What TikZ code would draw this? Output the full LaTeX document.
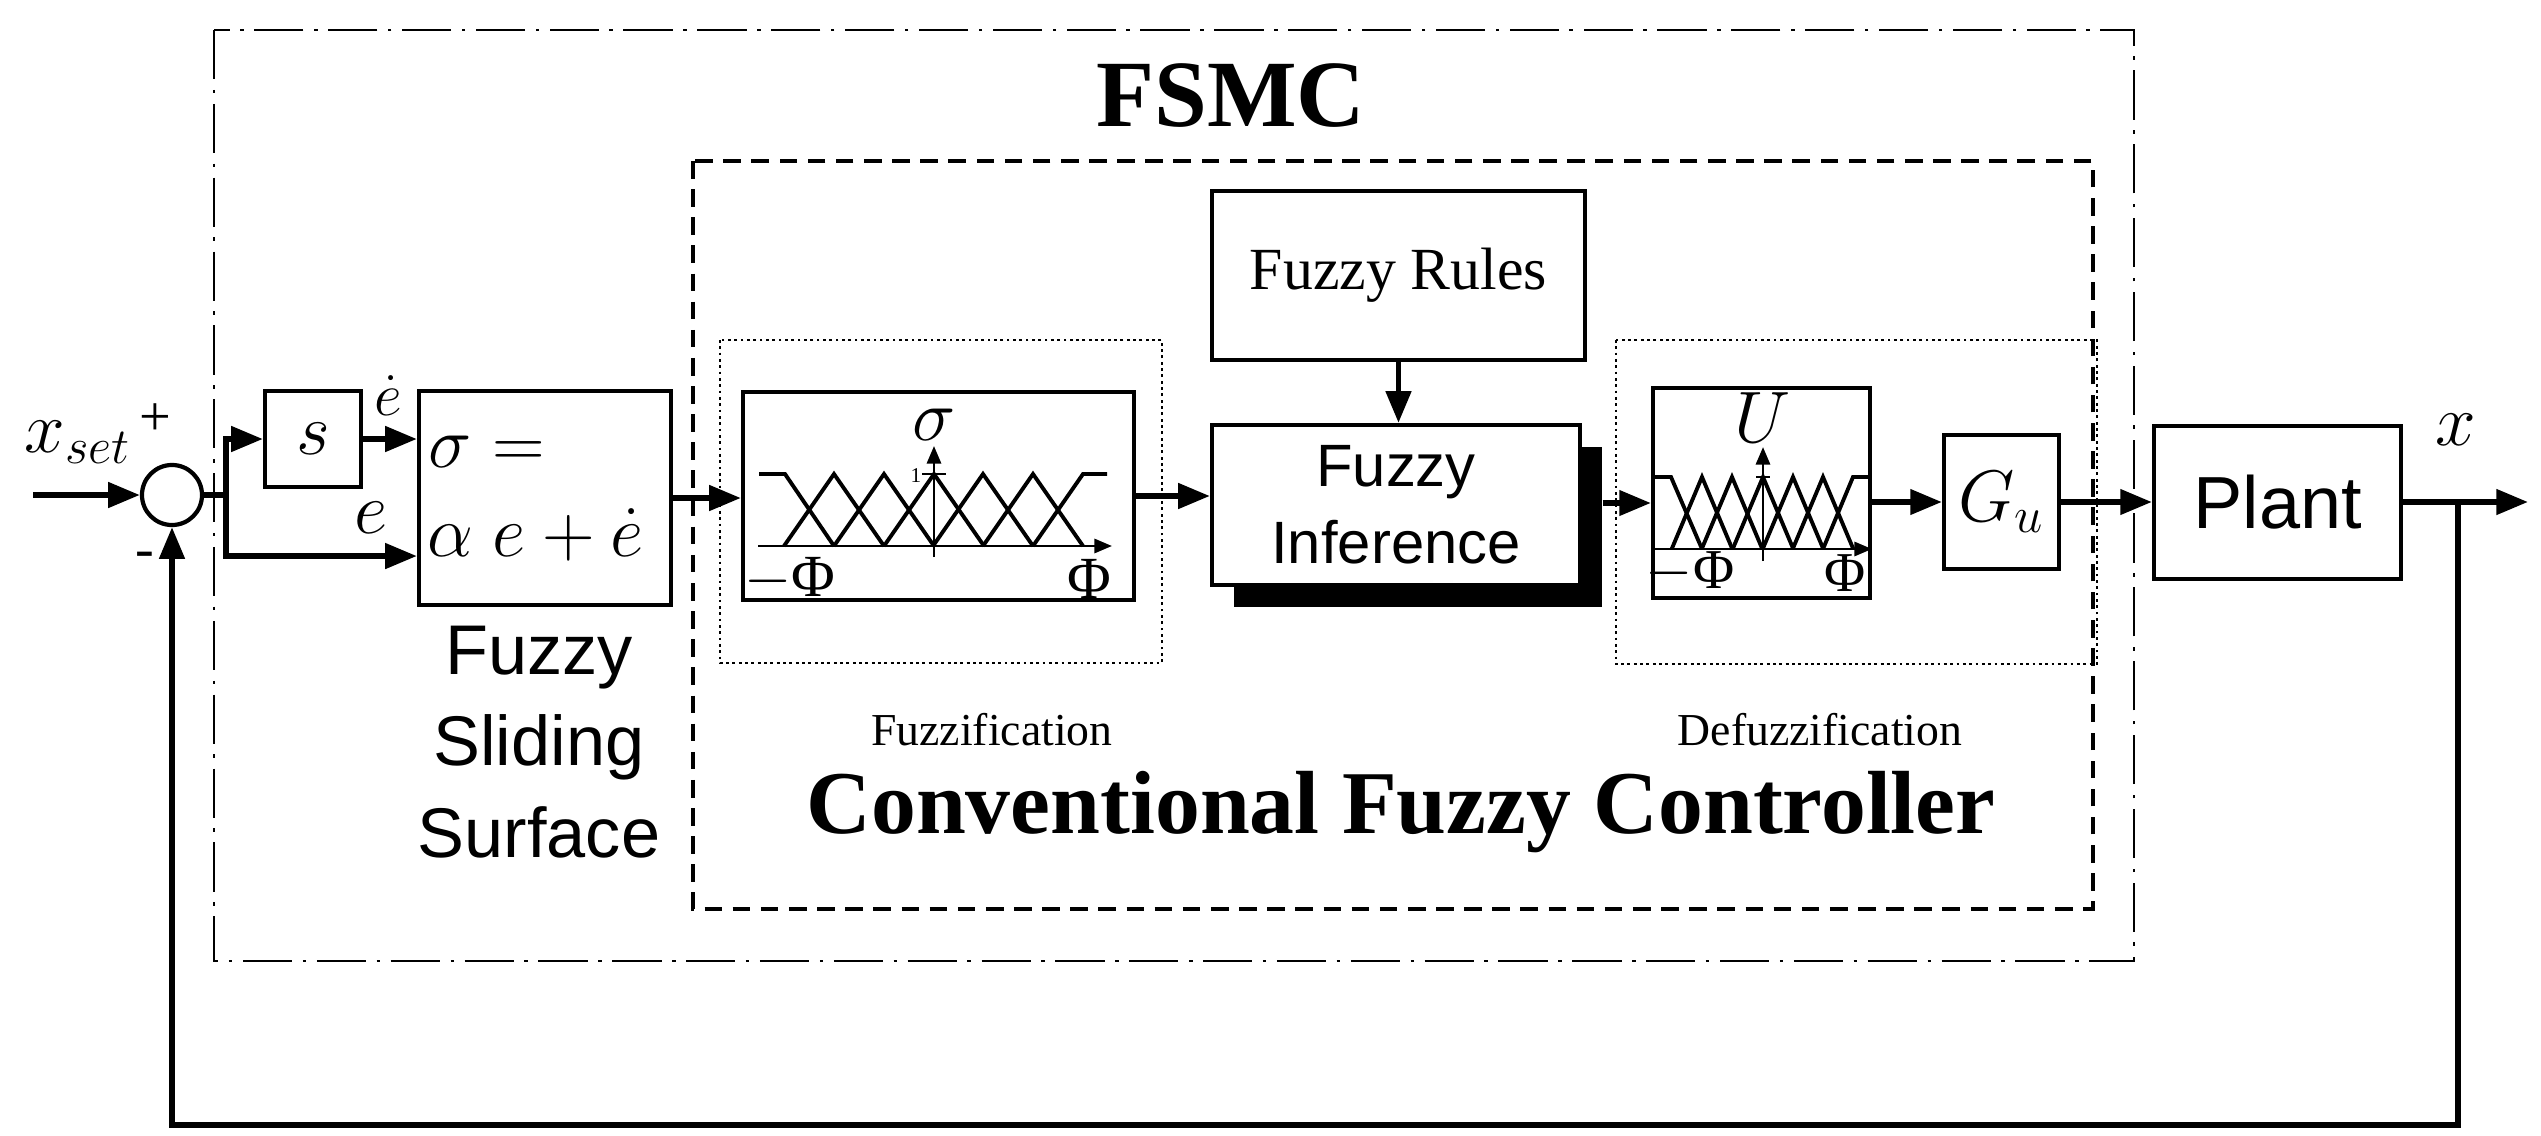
\documentclass[tikz,border=0pt]{standalone}
\usepackage{fontspec}
\setmainfont{Liberation Serif}
\newfontfamily\sansf{Liberation Sans}
\usetikzlibrary{arrows.meta,fit,calc}
\begin{document}
\begin{tikzpicture}[x=0.01cm,y=-0.01cm,
  box/.style={draw,line width=1.2pt,inner sep=0pt},
  ln/.style={line width=1.6pt},
  arr/.style={line width=1.6pt,-{Triangle[length=9pt,width=7pt]}},
  mf/.style={line width=1.1pt},
  ax/.style={line width=0.8pt,-{Triangle[length=5pt,width=4pt]}},
  lab/.style={inner sep=0pt}]
\useasboundingbox (0,0) rectangle (2541,1136);
% frames
\draw[line width=0.8pt,dash pattern=on 14pt off 3pt on 1pt off 3pt] (214,30) rectangle (2134,961);
\draw[line width=1pt,dash pattern=on 5pt off 3pt] (693,161) rectangle (2093,909);
\draw[line width=0.8pt,densely dotted] (720,340) rectangle (1162,663);
\draw[line width=0.8pt,densely dotted] (1616,340) rectangle (2097,664);
\node[lab,font=\bfseries\fontsize{27}{30}\selectfont] (fsmc) at (1231,96) {FSMC};
\node[lab,font=\bfseries\fontsize{25.5}{30}\selectfont] (cfc) at (1401,812) {Conventional Fuzzy Controller};
\node[lab,font=\fontsize{13}{15}\selectfont] (fzl) at (992,730) {Fuzzification};
\node[lab,font=\fontsize{13}{15}\selectfont] (dfl) at (1820,730) {Defuzzification};
% sum
\node[draw,circle,line width=1.2pt,minimum size=0.6cm,inner sep=0pt] (sum) at (172,495) {};
\coordinate (in) at (33,495);
\node[lab,font=\fontsize{21}{24}\selectfont] (xs) at (78,442) {$x_{set}$};
\node[lab,font=\fontsize{16}{18}\selectfont] (pl) at (155,420) {+};
\node[lab,font=\fontsize{16}{18}\selectfont] (mn) at (145,560) {-};
% s box
\node[box,fit={(265,391)(361,487)},label={[font=\fontsize{22}{24}\selectfont]center:$s$}] (s) {};
% sigma box
\node[box,fit={(419,391)(671,605)}] (sig) {};
\node[lab,font=\fontsize{22}{24}\selectfont,anchor=west] (sg1) at (428,452) {$\sigma=$};
\node[lab,font=\fontsize{22}{24}\selectfont,anchor=west] (sg2) at (427,535) {$\alpha\ e+\dot{e}$};
\node[lab,font=\sansf\fontsize{20}{26}\selectfont,align=center] (fss) at (539,742) {Fuzzy\\Sliding\\Surface};
\node[lab,font=\fontsize{18}{20}\selectfont] (ed) at (388,396) {$\dot{e}$};
\node[lab,font=\fontsize{20}{22}\selectfont] (el) at (371,518) {$e$};
% fuzzification box
\node[box,fit={(743,392)(1134,600)}] (fz) {};
\foreach \p in {834,884,934,983,1033} \draw[mf] (\p-50,546) -- (\p,474) -- (\p+50,546);
\draw[mf] (759,474) -- (785,474) -- (834,546);
\draw[mf] (1033,546) -- (1083,474) -- (1107,474);
\draw[ax] (758,546) -- (1112,546);
\draw[ax] (934,557) -- (934,446);
\draw[line width=0.8pt] (922,474) -- (946,474);
\node[lab,font=\fontsize{6}{7}\selectfont] (one) at (916,476) {1};
\node[lab,font=\fontsize{20}{22}\selectfont] (sgl) at (934,425) {$\sigma$};
\node[lab,font=\fontsize{17}{19}\selectfont] (mphi) at (790,579) {$-$Φ};
\node[lab,font=\fontsize{17}{19}\selectfont] (phi) at (1089,579) {Φ};
% rules and inference
\node[box,fit={(1212,191)(1585,360)},label={[font=\fontsize{17}{20}\selectfont]center:Fuzzy Rules}] (rules) {};
\node[fill=black,inner sep=0pt,fit={(1234,447)(1602,607)}] (shd) {};
\node[box,fill=white,fit={(1212,425)(1580,585)},label={[font=\sansf\fontsize{17}{22}\selectfont,align=center]center:Fuzzy\\Inference}] (inf) {};
% defuzz box
\node[box,fit={(1653,388)(1870,598)}] (df) {};
\foreach \p in {1702,1732,1763,1793,1823} \draw[mf] (\p-30.3,549) -- (\p,477) -- (\p+30.3,549);
\draw[mf] (1654,477) -- (1671,477) -- (1702,549);
\draw[mf] (1823,549) -- (1853,477) -- (1870,477);
\draw[ax] (1654,549) -- (1872,549);
\draw[ax] (1763,561) -- (1763,447);
\draw[line width=0.6pt] (1756,477) -- (1770,477);
\node[lab,font=\fontsize{20}{22}\selectfont] (ul) at (1763,418) {$U$};
\node[lab,font=\fontsize{16}{18}\selectfont] (mphi2) at (1690,573) {$-$Φ};
\node[lab,font=\fontsize{16}{18}\selectfont] (phi2) at (1845,573) {Φ};
% Gu and plant
\node[box,fit={(1944,435)(2059,569)},label={[font=\fontsize{20}{22}\selectfont]center:$G_u$}] (gu) {};
\node[box,fit={(2154,426)(2401,579)},label={[font=\sansf\fontsize{21}{24}\selectfont]center:Plant}] (plant) {};
\node[lab,font=\fontsize{22}{24}\selectfont] (xl) at (2456,430) {$x$};
\coordinate (out) at (2528,502);
\coordinate (fb) at (2458,502);
\coordinate (fb2) at (2458,1125);
\coordinate (fb3) at (172,1125);
\coordinate (br) at (226,495);
% connectors
\draw[arr] (in) -- (sum.west);
\draw[ln] (sum.east) -- (br);
\draw[arr] (br) |- (s.west);
\draw[arr] (br) |- ([yshift=-0.58cm]sig.west);
\draw[arr] (s.east) -- (s.east -| sig.west);
\draw[arr] (sig.east) -- (sig.east -| fz.west);
\draw[arr] (fz.east) -- (fz.east -| inf.west);
\draw[arr] (rules.south) -- (rules.south |- inf.north);
\draw[arr] (shd.east |- 0,503) -- (df.west |- 0,503);
\draw[arr] (df.east |- gu.west) -- (gu.west);
\draw[arr] (gu.east) -- (gu.east -| plant.west);
\draw[arr] (plant.east |- out) -- (out);
\draw[arr] (fb) -- (fb2) -- (fb3) -- (sum.south);
\end{tikzpicture}
\end{document}
